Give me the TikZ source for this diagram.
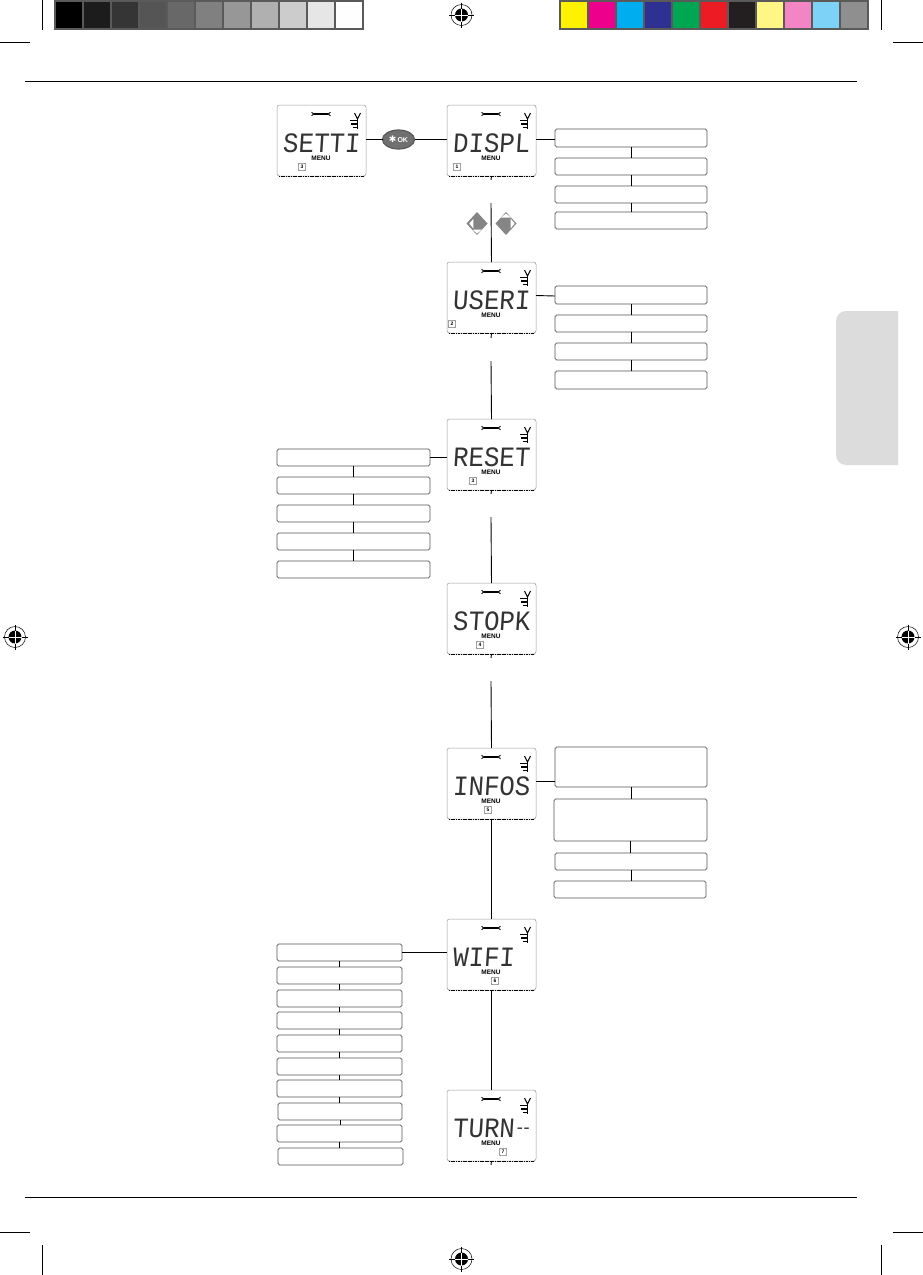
\documentclass[tikz,border=0pt]{standalone}
\usepackage{fontspec}
\setmainfont{Liberation Sans}
\newfontfamily\lcdfont{Liberation Mono}
\newfontfamily\symfont{DejaVu Sans}
\usetikzlibrary{shapes.geometric}
\definecolor{barbg}{HTML}{5A5A5A}
\definecolor{tabgray}{HTML}{DCDCDC}
\definecolor{boxline}{HTML}{555555}
\definecolor{lcdline}{HTML}{999999}
\definecolor{keygray}{HTML}{707070}
\tikzset{
  x=1pt,y=-1pt,
  conn/.style={draw=black,line width=.9pt},
  rule/.style={draw=black,line width=.9pt},
  menubox/.style={draw=boxline,line width=.6pt,rounded corners=1.6pt,inner sep=0,outer sep=0,anchor=north west},
  lcdbox/.style={draw=lcdline,line width=.5pt,rounded corners=2.5pt,inner sep=0,outer sep=0,anchor=north west,minimum width=89pt,minimum height=71pt},
  lcdtext/.style={font=\lcdfont\fontsize{28}{28}\selectfont,text=black!80,inner sep=0,anchor=west,xscale=.92,xslant=.07,transform shape},
  menulabel/.style={font=\bfseries\fontsize{6.5}{6.5}\selectfont,inner sep=0},
  numbox/.style={draw=black,line width=.45pt,rounded corners=.5pt,minimum width=7pt,minimum height=7pt,inner sep=0,font=\bfseries\fontsize{5}{5}\selectfont},
  okkey/.style={ellipse,draw=barbg,line width=1.2pt,fill=keygray,minimum width=32pt,minimum height=19pt,inner sep=0,outer sep=0},
}
% name, x, y, text, number-box x (relative), number
\newcommand{\lcdpanel}[6]{%
  \node[lcdbox] (#1) at (#2,#3) {};
  \begin{scope}[shift={(#2,#3)}]
    \draw[black,line width=.7pt,dash pattern=on 1.2pt off .5pt] (2,71) -- (87,71);
    \draw[black,line width=1.5pt] (37,9) -- (51,9);
    \draw[black,line width=.9pt] (34.5,7.3) -- (37,9) -- (34.5,10.7) (53.5,7.3) -- (51,9) -- (53.5,10.7);
    \draw[black,line width=1.1pt] (80.5,13) -- (80.5,24);
    \draw[black,line width=1pt] (77.5,8) -- (80.5,14) -- (83.5,8);
    \draw[black,line width=1.1pt] (73,15.5) -- (79.5,15.5) (74,19) -- (79.5,19) (75.5,22.5) -- (79.5,22.5);
    \node[lcdtext] (#1t) at (6,38) {#4};
    \node[menulabel] (#1m) at (44,53) {MENU};
    \node[numbox] (#1n) at (#5,62) {#6};
  \end{scope}}
\newcommand{\menuitem}[5]{\node[menubox,minimum width=#4pt-#2pt,minimum height=#5pt-#3pt] (#1) at (#2,#3) {};}
\newcommand{\vlink}[2]{\draw[conn] (#1.south) -- (#1.south |- #2.north);}
\newcommand{\regmark}[2]{%
  \draw[black,line width=.5pt] (#1,#2) circle[radius=10.5];
  \fill[black] (#1,#2) circle[radius=6.5];
  \draw[white,line width=.6pt] (#1-6.5,#2) -- (#1+6.5,#2) (#1,#2-6.5) -- (#1,#2+6.5);
  \draw[black,line width=.6pt] (#1-12.5,#2) -- (#1-6.5,#2) (#1+6.5,#2) -- (#1+12.5,#2) (#1,#2-12.5) -- (#1,#2-6.5) (#1,#2+6.5) -- (#1,#2+12.5);}
\begin{document}
\begin{tikzpicture}
\useasboundingbox (0,0) rectangle (923,1275);
\fill[white] (0,0) rectangle (923,1275);
% colour bars
\fill[barbg] (54,0) rectangle (364,30);
\foreach \i/\c in {0/000000,1/1C1C1C,2/353535,3/555555,4/686868,5/808080,6/979797,7/B0B0B0,8/CCCCCC,9/E6E6E6,10/FEFEFE}{
  \definecolor{sw}{HTML}{\c}\fill[sw] ({56+28*\i},2) rectangle ({82+28*\i},28);}
\fill[barbg] (559,0) rectangle (869,30);
\foreach \i/\c in {0/FFF200,1/EC008C,2/00AEEF,3/2E3192,4/00A651,5/ED1C24,6/231F20,7/FFF685,8/F485C5,9/7DD3F7,10/8F8F8F}{
  \definecolor{sw}{HTML}{\c}\fill[sw] ({561+28*\i},2) rectangle ({587+28*\i},28);}
% crop marks and rules
\draw[black,line width=.6pt] (42,0) -- (42,30) (0,42) -- (30,42) (881,0) -- (881,30) (893,42) -- (923,42)
  (42,1245) -- (42,1275) (0,1232) -- (30,1232) (881,1245) -- (881,1275) (893,1232) -- (923,1232);
\draw[rule] (25,81) -- (857,81) (25,1197) -- (857,1197);
\regmark{461.5}{15}\regmark{15}{637}\regmark{908}{637}\regmark{461.5}{1259}
% side tab
\fill[tabgray] (898,311) [rounded corners=10pt] -- (836,311) -- (836,465) [sharp corners] -- (898,465) -- cycle;
% panels
\lcdpanel{setti}{277}{105}{SETTI}{25}{3}
\lcdpanel{displ}{447}{105}{DISPL}{10}{1}
\lcdpanel{useri}{447}{262}{USERI}{5}{2}
\lcdpanel{reset}{447}{419}{RESET}{26}{3}
\lcdpanel{stopk}{447}{583}{STOPK}{33}{4}
\lcdpanel{infos}{447}{748}{INFOS}{41}{5}
\lcdpanel{wifi}{447}{919}{WIFI}{48}{6}
\lcdpanel{turn}{447}{1090}{TURN\raisebox{3.5pt}{\fontsize{18}{18}\selectfont -\kern-.2em-}}{56}{7}
% OK key
\node[okkey] (ok) at (398.5,139.5) {};
\node[inner sep=0,text=white] (oklabel) at (398.5,139.5) {{\symfont\fontsize{9}{9}\selectfont ✱}\kern1pt{\bfseries\fontsize{7}{7}\selectfont OK}};
\draw[conn] (setti.east |- ok) -- (ok.west);
\draw[conn] (ok.east) -- (displ.west |- ok);
% arrow keys
\fill[keygray!85!white] (477,212) -- (487.5,223.5) -- (477,235) -- (466.5,223.5) -- cycle;
\fill[white] (469.3,223.5) -- (473.3,219) -- (473.3,228.5) -- cycle;
\fill[white] (472.5,229.5) -- (482,229.5) -- (477,233.5) -- cycle;
\fill[keygray!85!white] (506,212) -- (516.5,223.5) -- (506,235) -- (495.5,223.5) -- cycle;
\fill[white] (501,217.5) -- (511,217.5) -- (506,213.5) -- cycle;
\fill[white] (510.5,218.5) -- (510.5,228.5) -- (514.7,223.5) -- cycle;
% main column
\coordinate (s1) at (491,180);\coordinate (g1) at (491,203);
\coordinate (s2) at (491,338);\coordinate (g2) at (491,361);
\coordinate (s3) at (491,494);\coordinate (g3) at (491,517);
\coordinate (s4) at (491,658);\coordinate (g4) at (491,681);
\coordinate (s5) at (491,1165);
\draw[conn] (displ.south) -- (s1);
\draw[conn] (g1) -- (useri.north);
\draw[conn] (useri.south) -- (s2);
\draw[conn] (g2) -- (reset.north);
\draw[conn] (reset.south) -- (s3);
\draw[conn] (g3) -- (stopk.north);
\draw[conn] (stopk.south) -- (s4);
\draw[conn] (g4) -- (infos.north);
\draw[conn] (infos.south) -- (wifi.north);
\draw[conn] (wifi.south) -- (turn.north);
\draw[conn] (turn.south) -- (s5);
% DISPL menu
\menuitem{d1}{555}{129}{707}{147}\menuitem{d2}{555}{158}{707}{175}\menuitem{d3}{555}{186}{707}{203}\menuitem{d4}{555}{212}{707}{229}
\vlink{d1}{d2}\vlink{d2}{d3}\vlink{d3}{d4}
\draw[conn] (displ.east |- ok) -- (d1.west |- ok);
% USERI menu
\menuitem{u1}{555}{286}{707}{304}\menuitem{u2}{555}{315}{707}{332}\menuitem{u3}{555}{343}{707}{360}\menuitem{u4}{555}{371}{707}{389}
\vlink{u1}{u2}\vlink{u2}{u3}\vlink{u3}{u4}
\draw[conn] (useri.east) ++(0,-2) -- (u1.west |- {0,296});
% RESET menu
\menuitem{r1}{277}{449}{430}{466}\menuitem{r2}{277}{477}{430}{494}\menuitem{r3}{277}{505}{430}{522}\menuitem{r4}{277}{533}{430}{550}\menuitem{r5}{277}{561}{430}{578}
\vlink{r1}{r2}\vlink{r2}{r3}\vlink{r3}{r4}\vlink{r4}{r5}
\draw[conn] (r1.east) -- (r1.east -| reset.west);
% INFOS menu
\menuitem{i1}{555}{747}{707}{787}\menuitem{i2}{554}{799}{707}{841}\menuitem{i3}{555}{853}{707}{870}\menuitem{i4}{554}{881}{706}{898}
\vlink{i1}{i2}\vlink{i2}{i3}\vlink{i3}{i4}
\draw[conn] (infos.east |- {0,781}) -- (i1.west |- {0,781});
% WIFI menu
\menuitem{w1}{277}{944}{402}{961}\menuitem{w2}{277}{967}{402}{984}\menuitem{w3}{277}{990}{402}{1007}\menuitem{w4}{277}{1012}{402}{1029}\menuitem{w5}{277}{1035}{402}{1052}
\menuitem{w6}{277}{1058}{402}{1075}\menuitem{w7}{277}{1080}{402}{1097}\menuitem{w8}{278}{1103}{402}{1120}\menuitem{w9}{277}{1125}{402}{1142}\menuitem{w10}{278}{1148}{403}{1165}
\vlink{w1}{w2}\vlink{w2}{w3}\vlink{w3}{w4}\vlink{w4}{w5}\vlink{w5}{w6}\vlink{w6}{w7}\vlink{w7}{w8}\vlink{w8}{w9}\vlink{w9}{w10}
\draw[conn] (w1.east) -- (w1.east -| wifi.west);
\end{tikzpicture}
\end{document}
